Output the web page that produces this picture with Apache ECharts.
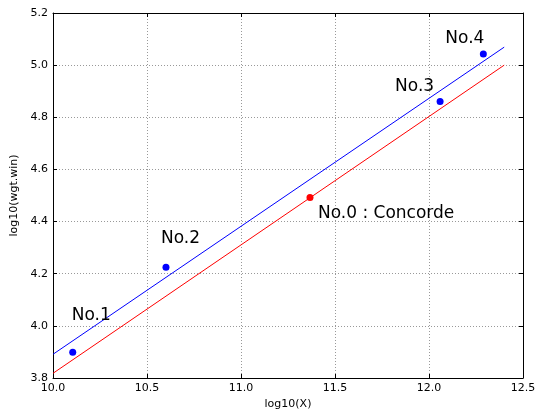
<!DOCTYPE html>
<html>
<head>
<meta charset="utf-8">
<script src="https://cdn.jsdelivr.net/npm/echarts@6/dist/echarts.min.js"></script>
<style>
	html,body{margin:0;padding:0;background:#fff;}
	#chart{width:535px;height:412px;}
</style>
</head>
<body>
<div id="chart"></div>
<script>
// aircraft points, log10 scale
var pointNames = ["No.0 : Concorde","No.1","No.2","No.3","No.4"];
var pointX = [11.367,10.105,10.601,12.059,12.289];
var pointY = [4.492,3.899,4.225,4.861,5.043];

// fitted lines (end points)
var blueLineX = [10.0,12.4];
var blueLineY = [3.891,5.069];
var redLineX = [10.0,12.4];
var redLineY = [3.818,5.0];

var xTicks = [10.0,10.5,11.0,11.5,12.0,12.5];
var yTicks = [3.8,4.0,4.2,4.4,4.6,4.8,5.0,5.2];

(function(){
	var FONT = "DejaVu Sans";
	// label placement relative to the marker (pixels)
	var labelOffsets = [[8,16],[-1,-37],[-5,-29],[-45,-15],[-38,-15]];

	function pairs(xs,ys){
		var out = [];
		for(var i=0;i<xs.length;i++){
			out.push([xs[i],ys[i]]);
		}
		return out;
	}
	var points = [];
	for(var i=0;i<pointX.length;i++){
		points.push({
			name:pointNames[i],
			value:[pointX[i],pointY[i]],
			itemStyle:{color:i==0 ? "#ff0000" : "#0000ff",opacity:1},
			label:{offset:labelOffsets[i]}
		});
	}
	function axisBase(min,max,step){
		return {
			type:"value",min:min,max:max,interval:step,
			axisLine:{show:true,onZero:false,lineStyle:{color:"#000",width:1}},
			axisTick:{show:true,inside:true,length:4,lineStyle:{color:"#000"}},
			splitLine:{show:false},
			axisLabel:{show:false}
		};
	}
	var xMain = axisBase(xTicks[0],xTicks[xTicks.length-1],0.5);
	xMain.position = "bottom";
	xMain.axisLabel = {show:true,color:"#000",fontFamily:FONT,fontSize:11,margin:5,
		formatter:function(v){return v.toFixed(1);}};
	xMain.splitLine = {show:true,lineStyle:{color:"#999",type:[1,2],width:1}};
	xMain.name = "log10(X)";
	xMain.nameLocation = "middle";
	xMain.nameGap = 17;
	xMain.nameTextStyle = {color:"#000",fontFamily:FONT,fontSize:11};
	var xTop = axisBase(xTicks[0],xTicks[xTicks.length-1],0.5);
	xTop.position = "top";

	var yMain = axisBase(yTicks[0],yTicks[yTicks.length-1],0.2);
	yMain.position = "left";
	yMain.axisLabel = {show:true,color:"#000",fontFamily:FONT,fontSize:11,margin:5,
		formatter:function(v){return v.toFixed(1);}};
	yMain.splitLine = {show:true,lineStyle:{color:"#999",type:[1,2],width:1}};
	yMain.name = "log10(wgt.win)";
	yMain.nameLocation = "middle";
	yMain.nameGap = 30;
	yMain.nameTextStyle = {color:"#000",fontFamily:FONT,fontSize:11};
	var yRight = axisBase(yTicks[0],yTicks[yTicks.length-1],0.2);
	yRight.position = "right";

	var chart = echarts.init(document.getElementById("chart"));
	chart.setOption({
		animation:false,
		backgroundColor:"#fff",
		grid:{left:53,top:13,right:12,bottom:34,containLabel:false,outerBoundsMode:"none"},
		xAxis:[xMain,xTop],
		yAxis:[yMain,yRight],
		series:[
			{
				type:"line",data:pairs(blueLineX,blueLineY),
				showSymbol:false,symbol:"none",
				lineStyle:{color:"#0000ff",width:1},z:2
			},
			{
				type:"line",data:pairs(redLineX,redLineY),
				showSymbol:false,symbol:"none",
				lineStyle:{color:"#ff0000",width:1},z:2
			},
			{
				type:"scatter",data:points,symbolSize:7,z:3,
				label:{
					show:true,position:"inside",align:"left",verticalAlign:"middle",
					color:"#000",fontFamily:FONT,fontSize:17,
					formatter:function(p){return p.name;}
				}
			}
		]
	});
})();
</script>
</body>
</html>
